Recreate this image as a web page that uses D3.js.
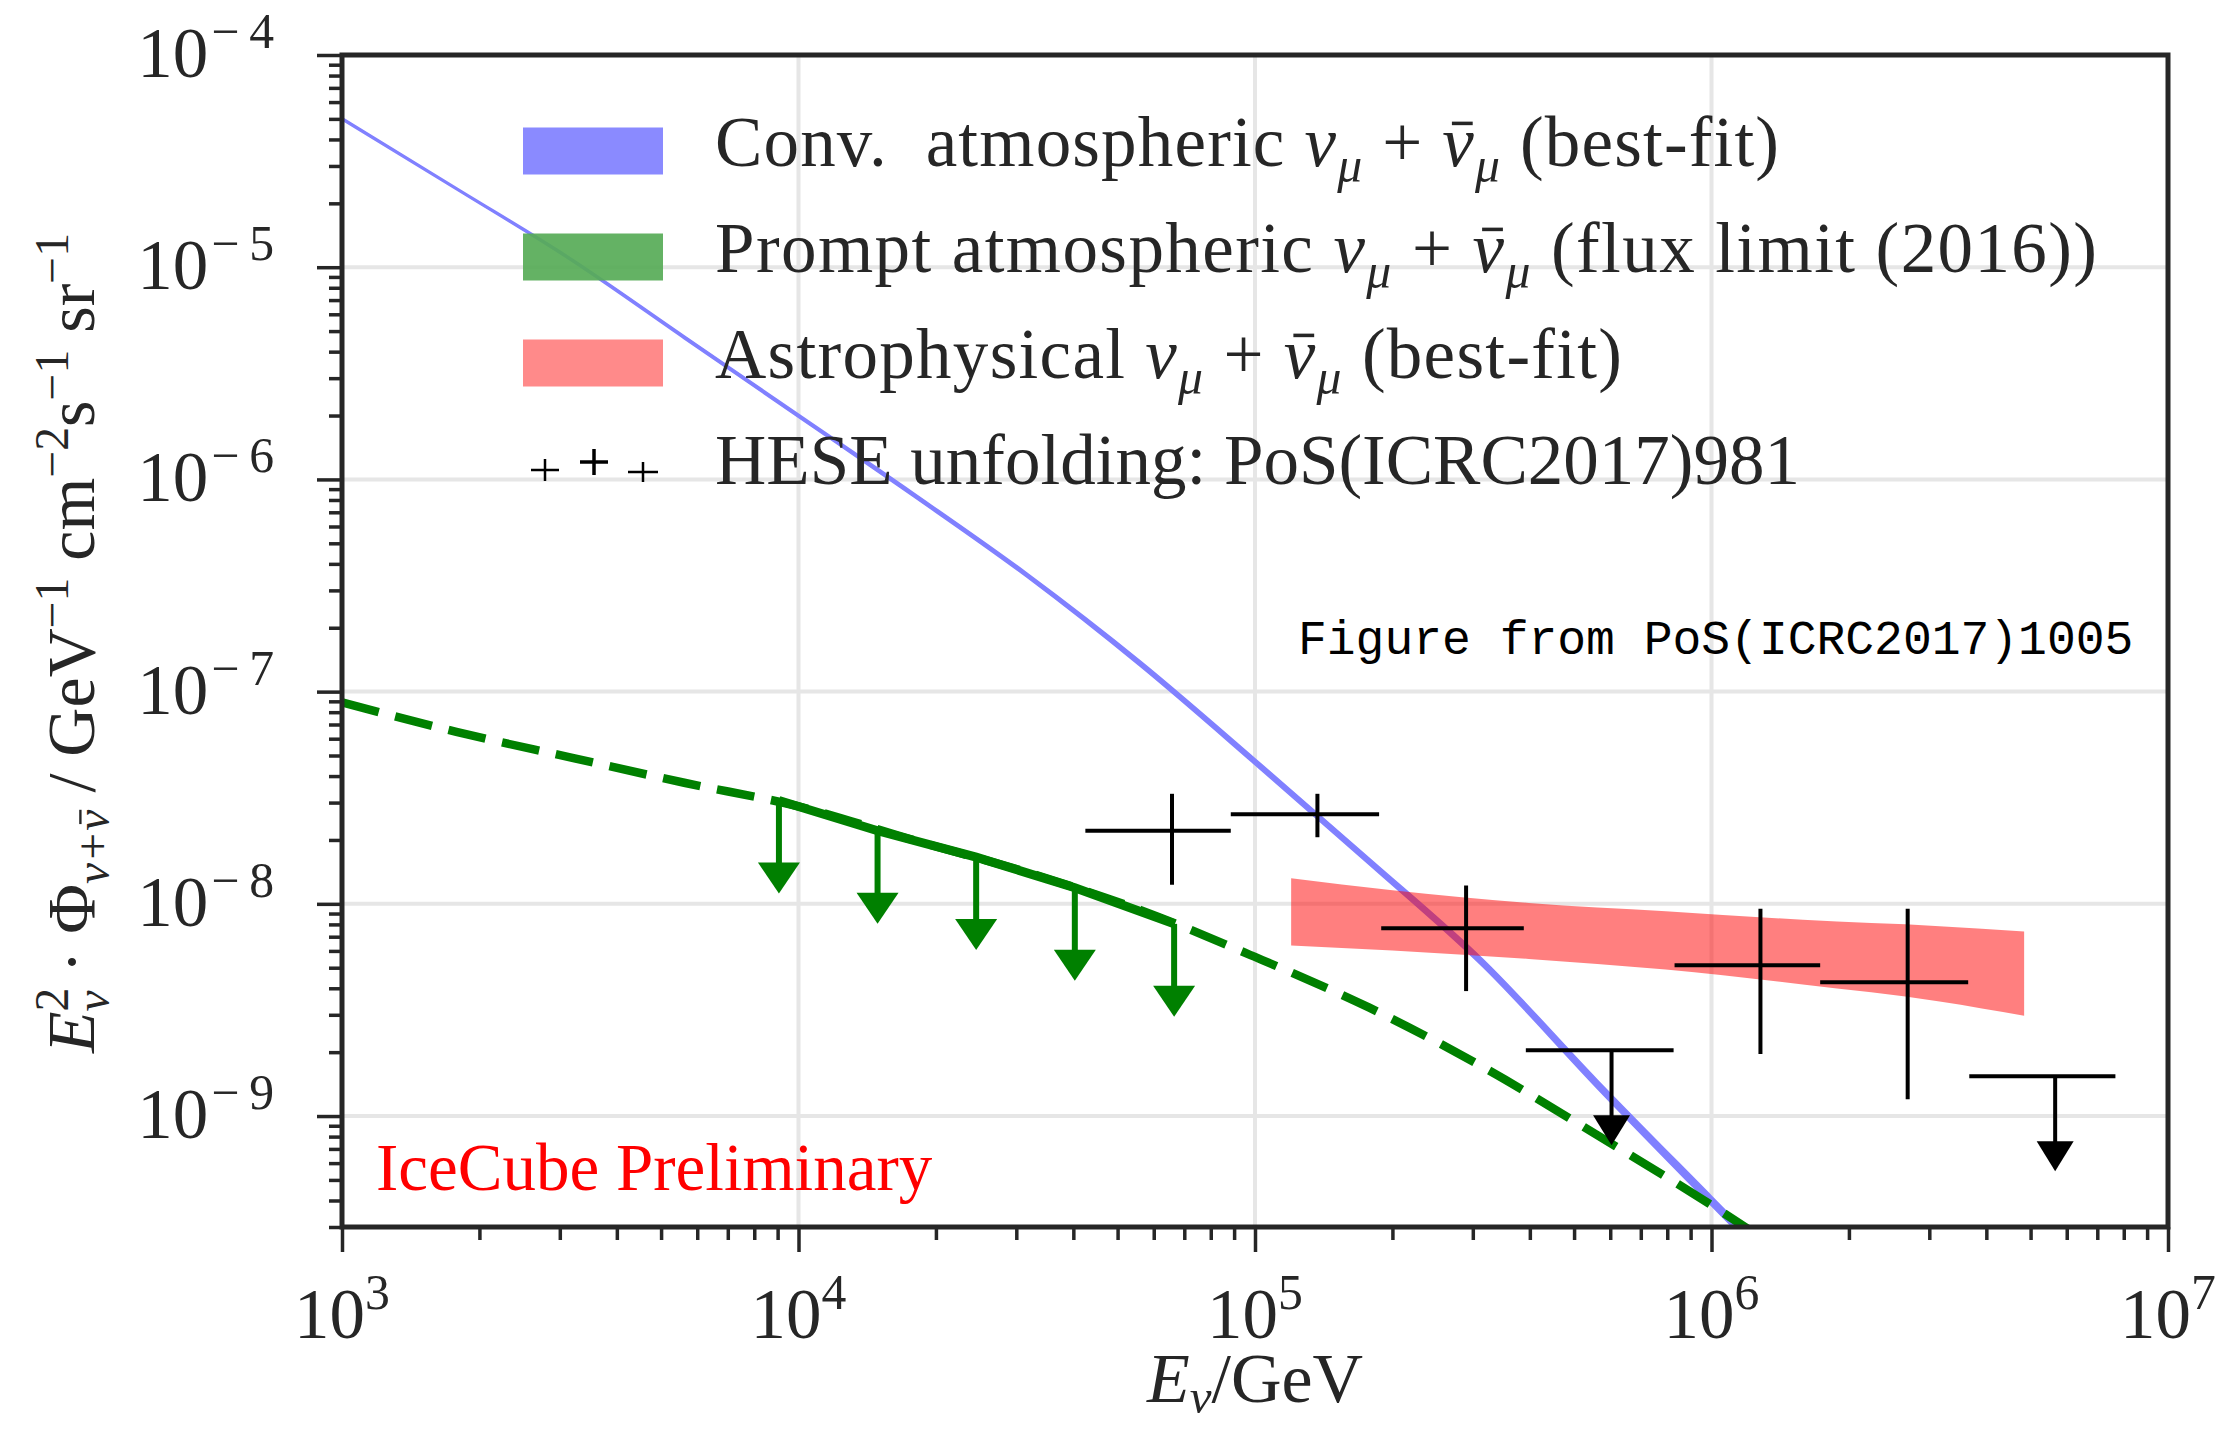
<!DOCTYPE html>
<html>
<head>
<meta charset="utf-8">
<script src="https://cdn.jsdelivr.net/npm/d3@7"></script>
<style>
  html, body { margin: 0; padding: 0; background: #fff; }
  svg { display: block; }
  text { font-family: "Liberation Serif", "DejaVu Serif", serif; fill: #262626; white-space: pre; }
</style>
</head>
<body>
<div id="chart"></div>
<script>
// energy grid for the model curves (GeV)
const modelE = [1e3, 1.78e3, 3.16e3, 5.62e3, 1e4, 1.78e4, 3.16e4, 5.62e4, 1e5, 1.78e5, 3.16e5, 5.62e5, 1e6, 1.26e6];
// conventional atmospheric best-fit band
const convLo = [4.95e-5, 2.32e-5, 1.08e-5, 4.60e-6, 1.96e-6, 8.34e-7, 3.47e-7, 1.31e-7, 4.53e-8, 1.53e-8, 5.04e-9, 1.35e-9, 3.78e-10, 2.28e-10];
const convHi = [5.07e-5, 2.37e-5, 1.11e-5, 4.75e-6, 2.03e-6, 8.69e-7, 3.63e-7, 1.39e-7, 4.83e-8, 1.64e-8, 5.47e-9, 1.48e-9, 4.19e-10, 2.53e-10];
// prompt atmospheric model (dashed)
const promptFlux = [8.91e-8, 6.46e-8, 4.90e-8, 3.72e-8, 2.88e-8, 2.00e-8, 1.41e-8, 9.33e-9, 5.62e-9, 3.24e-9, 1.70e-9, 8.13e-10, 3.80e-10, 2.75e-10];
// prompt flux limit (solid + arrows)
const limitE = [9.06e3, 1.49e4, 2.45e4, 4.03e4, 6.65e4];
const limitFlux = [3.07e-8, 2.21e-8, 1.66e-8, 1.19e-8, 8.05e-9];
// astrophysical best-fit band
const astroE = [1.2e5, 2.0e5, 3.98e5, 7.94e5, 1.585e6, 3.16e6, 4.84e6];
const astroLo = [6.37e-9, 6.03e-9, 5.50e-9, 4.90e-9, 4.17e-9, 3.47e-9, 2.97e-9];
const astroHi = [1.32e-8, 1.16e-8, 1.01e-8, 9.23e-9, 8.41e-9, 7.85e-9, 7.41e-9];
// HESE unfolding points
const heseE = [6.58e4, 1.37e5, 2.90e5, 6.04e5, 1.28e6, 2.69e6, 5.66e6];
const heseELo = [4.25e4, 8.85e4, 1.89e5, 3.92e5, 8.30e5, 1.73e6, 3.67e6];
const heseEHi = [8.85e4, 1.87e5, 3.88e5, 8.26e5, 1.73e6, 3.65e6, 7.67e6];
const heseFlux = [2.21e-8, 2.64e-8, 7.67e-9, 2.04e-9, 5.14e-9, 4.27e-9, 1.54e-9];
const heseLo = [1.23e-8, 2.06e-8, 3.88e-9, null, 1.96e-9, 1.20e-9, null];
const heseHi = [3.30e-8, 3.30e-8, 1.22e-8, null, 9.48e-9, 9.48e-9, null];
const heseUL = [false, false, false, true, false, false, true];

const xTicks = [1e3, 1e4, 1e5, 1e6, 1e7];
const xTickExp = ["3", "4", "5", "6", "7"];
const yTicks = [1e-9, 1e-8, 1e-7, 1e-6, 1e-5, 1e-4];
const yTickExp = ["9", "8", "7", "6", "5", "4"];

const nuMu = [{t: "ν", it: true}, {t: "μ", it: true, lvl: -1}, {t: " + "}, {t: "ν", it: true, bar: true}, {t: "μ", it: true, lvl: -1}];
const legendLabels = [
  [{t: "Conv.  atmospheric "}, ...nuMu, {t: " (best-fit)"}],
  [{t: "Prompt atmospheric "}, ...nuMu, {t: " (flux limit (2016))"}],
  [{t: "Astrophysical "}, ...nuMu, {t: " (best-fit)"}],
  [{t: "HESE unfolding: PoS(ICRC2017)981"}]
];
const legendWidths = [1064, 1382, 907, 1085];
const legendColors = ["#8080ff", "#57ab57", "#ff8080"];

const W = 2219, H = 1430;
const margin = { top: 55, right: 51, bottom: 203, left: 342 };
const width = W - margin.left - margin.right;
const height = H - margin.top - margin.bottom;
const ink = "#262626";

const svg = d3.select("#chart").append("svg")
  .attr("width", W)
  .attr("height", H);

const g = svg.append("g")
  .attr("transform", `translate(${margin.left}, ${margin.top})`);

const x = d3.scaleLog().domain([1e3, 1e7]).range([0, width]);
const y = d3.scaleLog().domain([3e-10, 1e-4]).range([height, 0]);

// rich text: parts with italic / sub / sup / overbar
function rich(sel, parts, fs, len, sub = 0.22) {
  if (len) sel.attr("textLength", len).attr("lengthAdjust", "spacing");
  let cur = 0;
  const bars = [];
  parts.forEach(p => {
    const lvl = p.lvl || 0;
    const size = lvl ? fs * 0.7 : fs;
    const target = lvl === 1 ? -fs * (p.up || 0.38) : lvl === -1 ? fs * sub : 0;
    const ts = sel.append("tspan")
      .text(p.t)
      .attr("font-size", size)
      .attr("dy", target - cur);
    if (p.it) ts.attr("font-style", "italic");
    if (p.dx) ts.attr("dx", p.dx * fs);
    if (p.bar) bars.push({ ts, base: target, size });
    cur = target;
  });
  // overbars drawn as lines in the text's own space
  const parent = d3.select(sel.node().parentNode);
  const y0 = +sel.attr("y") || 0;
  bars.forEach(b => {
    const bb = b.ts.node().getBBox();
    const by = y0 + b.base - 0.6 * b.size;
    parent.append("line")
      .attr("transform", sel.attr("transform"))
      .attr("x1", bb.x + bb.width * 0.3).attr("x2", bb.x + bb.width * 0.95)
      .attr("y1", by).attr("y2", by)
      .attr("stroke", ink).attr("stroke-width", b.size * 0.05);
  });
  return sel;
}

const isPow10 = v => Math.abs(Math.log10(v) - Math.round(Math.log10(v))) < 1e-6;

// grid
g.append("g").selectAll("line")
  .data(xTicks.slice(1, -1))
  .enter().append("line")
  .attr("x1", d => x(d)).attr("x2", d => x(d))
  .attr("y1", 0).attr("y2", height)
  .attr("stroke", "#e6e6e6").attr("stroke-width", 4);
g.append("g").selectAll("line")
  .data(yTicks.slice(0, -1))
  .enter().append("line")
  .attr("y1", d => y(d)).attr("y2", d => y(d))
  .attr("x1", 0).attr("x2", width)
  .attr("stroke", "#e6e6e6").attr("stroke-width", 4);

// clip
g.append("clipPath").attr("id", "clip")
  .append("rect").attr("width", width).attr("height", height);
const plot = g.append("g").attr("clip-path", "url(#clip)");

// conventional atmospheric band
const convArea = d3.area()
  .curve(d3.curveMonotoneX)
  .x((d, i) => x(modelE[i]))
  .y0((d, i) => y(convLo[i]))
  .y1((d, i) => y(convHi[i]));
plot.append("path")
  .datum(modelE)
  .attr("d", convArea)
  .attr("fill", "#8080ff")
  .attr("stroke", "#8080ff")
  .attr("stroke-width", 1.5);

// astrophysical band
const astroArea = d3.area()
  .curve(d3.curveMonotoneX)
  .x((d, i) => x(astroE[i]))
  .y0((d, i) => y(astroLo[i]))
  .y1((d, i) => y(astroHi[i]));
plot.append("path")
  .datum(astroE)
  .attr("d", astroArea)
  .attr("fill", "#ff0000")
  .attr("fill-opacity", 0.5);

// prompt model, dashed
const promptLine = d3.line()
  .curve(d3.curveMonotoneX)
  .x((d, i) => x(modelE[i]))
  .y(d => y(d));
plot.append("path")
  .datum(promptFlux)
  .attr("d", promptLine)
  .attr("fill", "none")
  .attr("stroke", "#008000")
  .attr("stroke-width", 8.5)
  .attr("stroke-dasharray", "38,17");

// prompt flux limit, solid
const limitLine = d3.line()
  .x((d, i) => x(limitE[i]))
  .y(d => y(d));
plot.append("path")
  .datum(limitFlux)
  .attr("d", limitLine)
  .attr("fill", "none")
  .attr("stroke", "#008000")
  .attr("stroke-width", 9);

function arrow(sel, px, py, len, hw, hh, color, sw) {
  sel.append("line")
    .attr("x1", px).attr("x2", px)
    .attr("y1", py).attr("y2", py + len - hh + 2)
    .attr("stroke", color).attr("stroke-width", sw);
  sel.append("path")
    .attr("d", `M${px - hw / 2},${py + len - hh}L${px + hw / 2},${py + len - hh}L${px},${py + len}Z`)
    .attr("fill", color);
}

limitE.forEach((e, i) => arrow(plot, x(e), y(limitFlux[i]), 93, 42, 31, "#008000", 6));

// HESE points
heseE.forEach((e, i) => {
  plot.append("line")
    .attr("x1", x(heseELo[i])).attr("x2", x(heseEHi[i]))
    .attr("y1", y(heseFlux[i])).attr("y2", y(heseFlux[i]))
    .attr("stroke", "#000").attr("stroke-width", 4);
  if (heseUL[i]) {
    arrow(plot, x(e), y(heseFlux[i]), 95, 37, 30, "#000", 4);
  } else {
    plot.append("line")
      .attr("x1", x(e)).attr("x2", x(e))
      .attr("y1", y(heseHi[i])).attr("y2", y(heseLo[i]))
      .attr("stroke", "#000").attr("stroke-width", 4);
  }
});

// axes ticks
const yAxis = g.append("g")
  .call(d3.axisLeft(y).tickValues(yTicks).tickSize(25).tickFormat(""));
const yMinor = g.append("g")
  .call(d3.axisLeft(y).tickValues(y.ticks().filter(v => !isPow10(v))).tickSize(13).tickFormat(""));
const xAxis = g.append("g")
  .attr("transform", `translate(0, ${height})`)
  .call(d3.axisBottom(x).tickValues(xTicks).tickSize(25).tickFormat(""));
const xMinor = g.append("g")
  .attr("transform", `translate(0, ${height})`)
  .call(d3.axisBottom(x).tickValues(x.ticks().filter(v => !isPow10(v))).tickSize(13).tickFormat(""));
[yAxis, yMinor, xAxis, xMinor].forEach(a => {
  a.select(".domain").remove();
  a.selectAll("line").attr("stroke", ink).attr("stroke-width", 3.5);
});

// frame
g.append("rect")
  .attr("width", width).attr("height", height)
  .attr("fill", "none").attr("stroke", ink).attr("stroke-width", 5);

// tick labels
const tickFs = 71;
xTicks.forEach((t, i) => {
  rich(g.append("text")
    .attr("x", x(t)).attr("y", height + 111)
    .attr("text-anchor", "middle"),
    [{t: "10"}, {t: xTickExp[i], lvl: 1, up: 0.41}], tickFs);
});
yTicks.forEach((t, i) => {
  rich(g.append("text")
    .attr("x", -68).attr("y", y(t) + 22)
    .attr("text-anchor", "end"),
    [{t: "10"}, {t: "−", lvl: 1, up: 0.41, dx: 0.04}, {t: yTickExp[i], lvl: 1, up: 0.41, dx: 0.14}], tickFs);
});

// axis labels
rich(svg.append("text")
  .attr("x", margin.left + x(1e5)).attr("y", 1402)
  .attr("text-anchor", "middle"),
  [{t: "E", it: true}, {t: "ν", it: true, lvl: -1}, {t: "/GeV"}], 70, null, 0.16);

rich(svg.append("text")
  .attr("transform", "translate(94, 643) rotate(-90)")
  .attr("text-anchor", "middle"),
  [{t: "E", it: true}, {t: "2", lvl: 1}, {t: "ν", it: true, lvl: -1, dx: -0.35},
   {t: " · Φ"}, {t: "ν+", it: true, lvl: -1}, {t: "ν", it: true, lvl: -1, bar: true},
   {t: " / GeV"}, {t: "−1", lvl: 1},
   {t: " cm"}, {t: "−2", lvl: 1}, {t: "s"}, {t: "−1", lvl: 1}, {t: " sr"}, {t: "−1", lvl: 1}], 68);

// legend
const legendRowY = [151, 257, 363, 469];
const legend = svg.append("g");
legendColors.forEach((c, i) => {
  legend.append("rect")
    .attr("x", 523).attr("y", legendRowY[i] - 23.5)
    .attr("width", 140).attr("height", 47)
    .attr("fill", c).attr("fill-opacity", 0.92);
});
[[545, 470, 14, 11, 2.5], [594, 462, 14, 13, 3.5], [643, 472, 15, 10, 2.5]].forEach(([cx, cy, hx, hy, sw]) => {
  legend.append("line").attr("x1", cx - hx).attr("x2", cx + hx).attr("y1", cy).attr("y2", cy)
    .attr("stroke", "#000").attr("stroke-width", sw);
  legend.append("line").attr("x1", cx).attr("x2", cx).attr("y1", cy - hy).attr("y2", cy + hy)
    .attr("stroke", "#000").attr("stroke-width", sw);
});
legendLabels.forEach((parts, i) => {
  rich(legend.append("text")
    .attr("x", 715).attr("y", legendRowY[i] + 15),
    parts, 71, legendWidths[i]);
});

// annotations
svg.append("text")
  .attr("x", 376).attr("y", 1190)
  .style("fill", "#ff0000")
  .attr("font-size", 67)
  .text("IceCube Preliminary");

svg.append("text")
  .attr("x", 1298).attr("y", 654)
  .style("font-family", "'Courier New', 'Liberation Mono', monospace")
  .style("fill", "#000")
  .attr("font-size", 48)
  .text("Figure from PoS(ICRC2017)1005");
</script>
</body>
</html>
